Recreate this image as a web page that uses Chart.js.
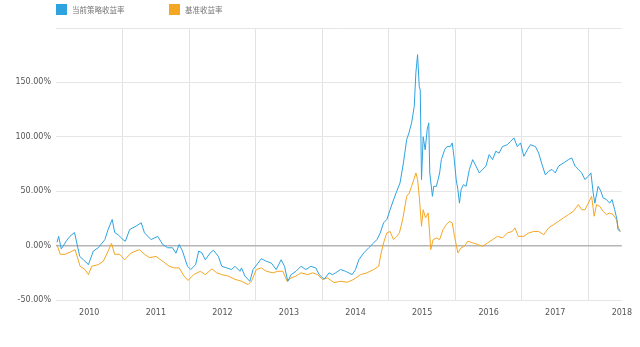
<!DOCTYPE html>
<html>
<head>
<meta charset="utf-8">
<script src="https://cdn.jsdelivr.net/npm/chart.js@4"></script>
<style>
  html, body { margin: 0; padding: 0; background: #fff; }
  #wrap { width: 640px; height: 347px; position: relative; }
</style>
</head>
<body>
<div id="wrap"><canvas id="returnChart"></canvas></div>
<script>
const seriesNames = ["当前策略收益率", "基准收益率"];
const seriesColors = ["#2ea3e0", "#f5a623"];
const yearLabels = [2010, 2011, 2012, 2013, 2014, 2015, 2016, 2017, 2018];

// position along the time axis (years) and cumulative return (%)
const strategyYears = [
    2009.515, 2009.54, 2009.579, 2009.664, 2009.708, 2009.778, 2009.857, 2009.912, 2009.987,
    2010.061, 2010.135, 2010.234, 2010.284, 2010.344, 2010.382, 2010.433, 2010.507, 2010.542,
    2010.606, 2010.705, 2010.78, 2010.829, 2010.929, 2011.028, 2011.103, 2011.177, 2011.251,
    2011.301, 2011.35, 2011.4, 2011.475, 2011.524, 2011.598, 2011.643, 2011.692, 2011.743,
    2011.817, 2011.866, 2011.94, 2011.99, 2012.064, 2012.138, 2012.189, 2012.263, 2012.287,
    2012.338, 2012.412, 2012.461, 2012.536, 2012.585, 2012.659, 2012.734, 2012.808, 2012.882,
    2012.933, 2012.982, 2013.031, 2013.106, 2013.18, 2013.254, 2013.329, 2013.403, 2013.454,
    2013.528, 2013.603, 2013.652, 2013.701, 2013.775, 2013.85, 2013.949, 2013.999, 2014.049,
    2014.124, 2014.198, 2014.272, 2014.321, 2014.371, 2014.421, 2014.47, 2014.519, 2014.57,
    2014.619, 2014.668, 2014.719, 2014.768, 2014.802, 2014.842, 2014.882, 2014.906, 2014.932,
    2014.957, 2014.972, 2014.991, 2015.016, 2015.046, 2015.076, 2015.1, 2015.115, 2015.155,
    2015.174, 2015.214, 2015.24, 2015.263, 2015.289, 2015.338, 2015.374, 2015.423, 2015.452,
    2015.478, 2015.512, 2015.537, 2015.561, 2015.586, 2015.621, 2015.661, 2015.71, 2015.76,
    2015.81, 2015.859, 2015.909, 2015.958, 2016.007, 2016.058, 2016.107, 2016.156, 2016.207,
    2016.281, 2016.33, 2016.379, 2016.43, 2016.479, 2016.528, 2016.579, 2016.628, 2016.702,
    2016.751, 2016.802, 2016.851, 2016.9, 2016.951, 2017.0, 2017.049, 2017.124, 2017.198,
    2017.248, 2017.298, 2017.347, 2017.397, 2017.446, 2017.496, 2017.536, 2017.57, 2017.595,
    2017.644, 2017.685, 2017.719, 2017.769, 2017.818, 2017.853, 2017.893, 2017.927, 2017.942,
    2017.978
];
const strategyReturns = [
    3, 8.5, -3, 5, 8.5, 12, -10, -13, -17.5,
    -5, -2, 5.5, 15, 24, 12, 10, 5.5, 4,
    14.7, 18, 21, 11.7, 5.5, 8.5, 1, -2, -2,
    -7, 1, -5, -19, -22, -17.5, -5, -6.7, -13,
    -6.7, -4.3, -10, -19, -20.5, -22, -19, -23.6, -20.5,
    -28, -32.8, -22, -16, -12, -14.4, -16, -22, -13,
    -19, -32.8, -26.7, -23.6, -19, -22, -19, -20.5, -26.7,
    -31, -25, -26.7, -25, -22, -23.6, -26.7, -22, -13,
    -6.7, -2, 2.5, 5.5, 11.7, 20.9, 24, 33, 42,
    50, 57.6, 76, 97.4, 103.6, 112.8, 128, 158.7, 175.5,
    146, 143, 60.7, 100, 88, 106.6, 112.8, 66.8, 45.3,
    54.5, 54.5, 60.7, 66.8, 79, 88, 91, 91, 94.4,
    82, 60.7, 51.5, 39, 51.5, 56, 54.5, 70, 79,
    73, 66.8, 70, 73, 83.6, 79, 86.7, 85, 91,
    92.8, 95.8, 99, 91, 94.4, 82, 88, 92.8, 91,
    85, 74.4, 65, 68.3, 70, 66.8, 73, 76, 79,
    80.6, 73, 70, 66.8, 60.7, 63.7, 66.8, 48.4, 39,
    54.5, 50, 43.8, 42.3, 39, 42.3, 33, 24, 14.7,
    13
];

const benchmarkYears = [
    2009.515, 2009.564, 2009.638, 2009.713, 2009.787, 2009.862, 2009.936, 2009.987, 2010.036,
    2010.135, 2010.21, 2010.284, 2010.333, 2010.382, 2010.457, 2010.531, 2010.631, 2010.754,
    2010.829, 2010.903, 2011.003, 2011.103, 2011.201, 2011.275, 2011.35, 2011.424, 2011.484,
    2011.568, 2011.668, 2011.743, 2011.841, 2011.915, 2011.99, 2012.089, 2012.189, 2012.287,
    2012.387, 2012.436, 2012.51, 2012.585, 2012.659, 2012.759, 2012.833, 2012.908, 2012.972,
    2013.031, 2013.106, 2013.18, 2013.28, 2013.354, 2013.429, 2013.503, 2013.577, 2013.677,
    2013.775, 2013.875, 2013.975, 2014.073, 2014.173, 2014.272, 2014.347, 2014.385, 2014.421,
    2014.47, 2014.519, 2014.57, 2014.619, 2014.659, 2014.708, 2014.768, 2014.808, 2014.842,
    2014.876, 2014.906, 2014.932, 2014.957, 2014.991, 2015.016, 2015.051, 2015.091, 2015.13,
    2015.165, 2015.214, 2015.263, 2015.314, 2015.363, 2015.412, 2015.452, 2015.487, 2015.537,
    2015.586, 2015.635, 2015.686, 2015.76, 2015.835, 2015.909, 2015.984, 2016.058, 2016.132,
    2016.207, 2016.281, 2016.356, 2016.394, 2016.445, 2016.528, 2016.603, 2016.677, 2016.751,
    2016.826, 2016.9, 2016.975, 2017.049, 2017.124, 2017.198, 2017.272, 2017.347, 2017.397,
    2017.446, 2017.496, 2017.546, 2017.585, 2017.62, 2017.67, 2017.719, 2017.769, 2017.818,
    2017.868, 2017.918, 2017.942, 2017.978
];
const benchmarkReturns = [
    1, -8, -8, -6, -3.7, -19, -22, -26.7, -19,
    -17.5, -14.4, -5, 2, -8, -8, -13, -6.7, -3.7,
    -8, -11, -10, -14.4, -19, -20.5, -20.5, -28, -32,
    -26.7, -23.6, -26.7, -21.4, -25, -26.7, -28, -31, -32.8,
    -35.8, -32.8, -22, -20.5, -23.6, -25, -23.6, -23.6, -32.8,
    -29.7, -28, -25, -26.7, -25, -26.7, -31, -29.7, -34,
    -32.8, -33.7, -31, -26.7, -25, -22, -19, -6.7, 2.5,
    11.7, 13, 5.5, 8.5, 11.7, 24, 45.3, 48.4, 54.5,
    60.7, 66.8, 60.7, 45.3, 17.7, 33, 25.5, 30, -3.7,
    5.5, 7, 5.5, 14.7, 19.3, 22.3, 20.9, 8.5, -6.7,
    -2, -0.6, 4, 2.5, 1, -0.6, 2.5, 5.5, 8.5,
    7, 11.7, 13, 16.3, 8.5, 8.5, 11.7, 13, 13,
    10, 16.3, 19.3, 22.3, 25.5, 28.5, 31.5, 37.7, 33,
    33, 39, 45.3, 27, 37.7, 36, 31.5, 28.5, 30,
    28.5, 24, 17.7, 13
];

function toPoints(xs, ys) {
    return xs.map((x, i) => ({ x: x, y: ys[i] }));
}

// x ticks: labels on whole years, grid lines half way between them
const xTickValues = [];
yearLabels.forEach(function (y, i) {
    xTickValues.push(y);
    if (i < yearLabels.length - 1) xTickValues.push(y + 0.5);
});

const topLegend = {
    id: "topLegend",
    afterDraw(chart) {
        const c = chart.ctx;
        const starts = [56, 169];
        c.save();
        c.font = "7.5px 'Noto Sans CJK SC'";
        c.textBaseline = "middle";
        chart.data.datasets.forEach(function (ds, i) {
            c.fillStyle = ds.borderColor;
            c.fillRect(starts[i], 4, 11, 11);
            c.fillStyle = "#777";
            c.fillText(ds.label, starts[i] + 16, 10);
        });
        c.restore();
    }
};

const ctx = document.getElementById("returnChart").getContext("2d");
const returnChart = new Chart(ctx, {
    type: "line",
    data: {
        datasets: [{
            label: seriesNames[0],
            data: toPoints(strategyYears, strategyReturns),
            borderColor: seriesColors[0],
            backgroundColor: seriesColors[0],
            borderWidth: 1,
            pointRadius: 0,
            tension: 0
        }, {
            label: seriesNames[1],
            data: toPoints(benchmarkYears, benchmarkReturns),
            borderColor: seriesColors[1],
            backgroundColor: seriesColors[1],
            borderWidth: 1,
            pointRadius: 0,
            tension: 0
        }]
    },
    options: {
        responsive: true,
        maintainAspectRatio: false,
        animation: false,
        layout: {
            padding: { top: 28, right: 13, left: 0, bottom: 0 }
        },
        plugins: {
            legend: { display: false },
            tooltip: { enabled: false }
        },
        scales: {
            x: {
                type: "linear",
                min: 2009.5,
                max: 2018,
                afterBuildTicks: function (scale) {
                    scale.ticks = xTickValues.map(v => ({ value: v }));
                },
                afterFit: function (scale) {
                    scale.height = 47;
                },
                border: { display: false },
                grid: {
                    drawTicks: false,
                    color: function (c) {
                        return c.tick && c.tick.value % 1 !== 0 ? "#e3e3e3" : "rgba(0,0,0,0)";
                    }
                },
                ticks: {
                    autoSkip: false,
                    maxRotation: 0,
                    padding: 8,
                    color: "#555",
                    font: { family: "DejaVu Sans", size: 8 },
                    callback: function (value) {
                        return Number.isInteger(value) ? String(value) : "";
                    }
                }
            },
            y: {
                min: -50,
                max: 200,
                afterFit: function (scale) {
                    scale.width = 56;
                },
                border: { display: false },
                grid: {
                    drawTicks: false,
                    color: function (c) {
                        return c.tick && c.tick.value === 0 ? "#b5b5b5" : "#e6e6e6";
                    },
                    lineWidth: function (c) {
                        return c.tick && c.tick.value === 0 ? 1.5 : 1;
                    }
                },
                ticks: {
                    stepSize: 50,
                    padding: 5,
                    color: "#555",
                    font: { family: "DejaVu Sans", size: 8 },
                    callback: function (value) {
                        return value === 200 ? "" : value.toFixed(2) + "%";
                    }
                }
            }
        }
    },
    plugins: [topLegend]
});
</script>
</body>
</html>
